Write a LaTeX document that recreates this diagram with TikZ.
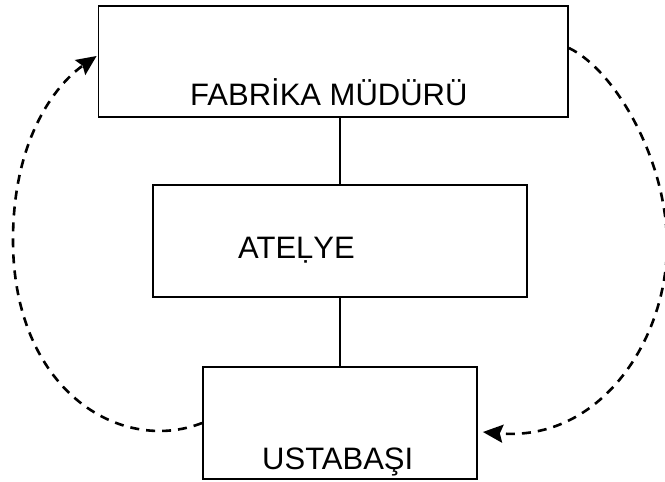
\documentclass[tikz,border=0pt]{standalone}
\usepackage{fontspec}
\setmainfont{Liberation Sans}
\usetikzlibrary{arrows.meta,calc}
\begin{document}
\begin{tikzpicture}[x=1pt,y=-1pt,
  box/.style={draw,line width=1.8pt,rectangle,inner sep=0pt},
  lbl/.style={anchor=base west,inner sep=0pt,font=\fontsize{31}{37}\selectfont},
  link/.style={line width=1.4pt},
  flow/.style={line width=2.6pt,dash pattern=on 9pt off 7pt,-{Stealth[length=20pt,width=18pt,inset=3pt]}}]
\useasboundingbox (0,0) rectangle (665,482);
\node[box,minimum width=469.5pt,minimum height=111pt] (b1) at (333.25,61.5) {};
\node[box,minimum width=374pt,minimum height=112pt] (b2) at (340,241) {};
\node[box,minimum width=274pt,minimum height=112pt] (b3) at (340,423) {};
\node[lbl] (t1) at (190,105) {FABRİKA MÜDÜRÜ};
\node[lbl] (t2) at (238,258) {ATEḶYE};
\node[lbl] (t3) at (262,469) {USTABAŞI};
\draw[link] (b2.north) -- (b2.north |- b1.south);
\draw[link] (b2.south) -- (b2.south |- b3.north);
\coordinate (la) at ($(b1.west)+(-1,-5.5)$);
\coordinate (rs) at ($(b1.east)+(0,-13.5)$);
\coordinate (re) at ($(b3.east)+(5,9)$);
\draw[flow] (b3.west) .. controls (120,455) and (13,390) .. (13,240)
  .. controls (13,140) and (55,85) .. (la);
\draw[flow] (rs) .. controls (615,70) and (667,160) .. (667,245)
  .. controls (667,340) and (600,442) .. (re);
\end{tikzpicture}
\end{document}
